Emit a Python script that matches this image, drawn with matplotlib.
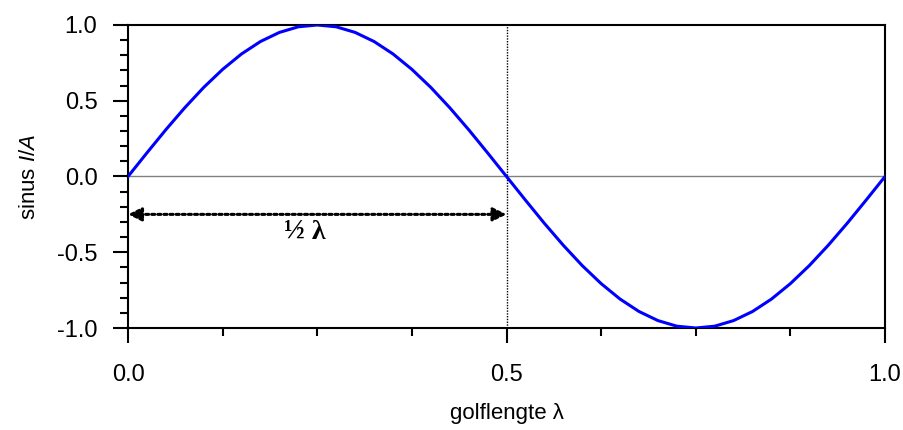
import matplotlib
matplotlib.use("Agg")
import matplotlib.pyplot as plt
from matplotlib.ticker import MultipleLocator

plt.rcParams['font.family'] = ['Liberation Sans', 'DejaVu Sans']
plt.rcParams['mathtext.fontset'] = 'custom'
plt.rcParams['mathtext.it'] = 'Liberation Sans:italic'
plt.rcParams['mathtext.rm'] = 'Liberation Sans'

# golflengte (fractie van lambda) en sinus waarden
golflengte = [0.000, 0.025, 0.050, 0.075, 0.100, 0.125, 0.150, 0.175, 0.200, 0.225,
              0.250, 0.275, 0.300, 0.325, 0.350, 0.375, 0.400, 0.425, 0.450, 0.475,
              0.500, 0.525, 0.550, 0.575, 0.600, 0.625, 0.650, 0.675, 0.700, 0.725,
              0.750, 0.775, 0.800, 0.825, 0.850, 0.875, 0.900, 0.925, 0.950, 0.975, 1.000]
sinus = [0.000, 0.156, 0.309, 0.454, 0.588, 0.707, 0.809, 0.891, 0.951, 0.988,
         1.000, 0.988, 0.951, 0.891, 0.809, 0.707, 0.588, 0.454, 0.309, 0.156,
         0.000, -0.156, -0.309, -0.454, -0.588, -0.707, -0.809, -0.891, -0.951, -0.988,
         -1.000, -0.988, -0.951, -0.891, -0.809, -0.707, -0.588, -0.454, -0.309, -0.156, 0.000]

x_ticks = [0.0, 0.5, 1.0]
y_ticks = [-1.0, -0.5, 0.0, 0.5, 1.0]
half_lambda = 0.5
arrow_y = -0.25

fig = plt.figure(figsize=(9.04, 4.30), dpi=100)
ax = fig.add_axes([0.1416, 0.2372, 0.8374, 0.7047])

ax.axhline(0, color='gray', lw=1.0, zorder=1)
ax.plot([half_lambda, half_lambda], [-1, 1], color='black', lw=1.0,
        linestyle=(0, (1, 1)), zorder=1)
ax.plot(golflengte, sinus, color='#0000FF', lw=2.2, zorder=3)

ax.annotate('', xy=(0, arrow_y), xytext=(half_lambda, arrow_y),
            arrowprops=dict(arrowstyle='<|-|>', linestyle=(0, (1, 1)), lw=2.2,
                            color='black', mutation_scale=20, shrinkA=0, shrinkB=0))
ax.text(0.234, -0.37, '½ λ', family=['Liberation Serif', 'DejaVu Serif'],
        fontweight='bold', fontsize=20, ha='center', va='center')

ax.set_xlim(0, 1)
ax.set_ylim(-1, 1)
ax.set_xticks(x_ticks)
ax.set_xticklabels(['%.1f' % v for v in x_ticks])
ax.set_yticks(y_ticks)
ax.set_yticklabels(['%.1f' % v for v in y_ticks])
ax.xaxis.set_minor_locator(MultipleLocator(0.125))
ax.yaxis.set_minor_locator(MultipleLocator(0.1))

ax.tick_params(axis='both', which='major', direction='out', length=11, width=1.5,
               labelsize=17, top=False, right=False)
ax.tick_params(axis='both', which='minor', direction='out', length=5.5, width=1.5,
               top=False, right=False)
ax.tick_params(axis='x', which='major', pad=15)
ax.tick_params(axis='y', which='major', pad=11)
for s in ax.spines.values():
    s.set_linewidth(1.5)

ax.set_xlabel('golflengte λ', fontsize=16, labelpad=12)
ax.set_ylabel('sinus $I/A$', fontsize=16, labelpad=12)

fig.savefig('out.png', dpi=100)
